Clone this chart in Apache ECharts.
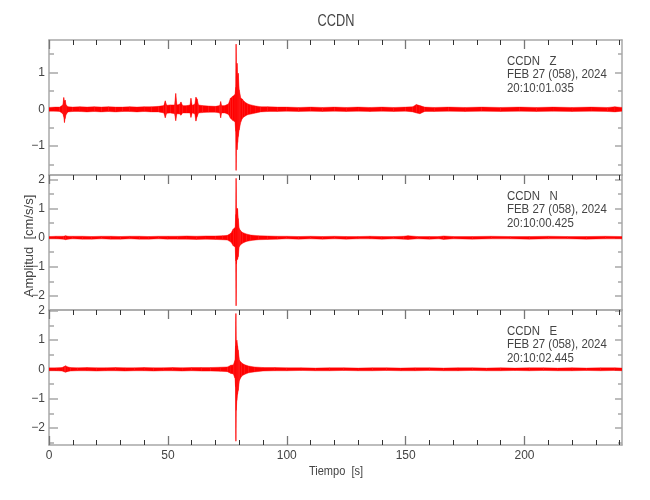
<!DOCTYPE html>
<html><head><meta charset="utf-8">
<script src="https://cdn.jsdelivr.net/npm/echarts@6/dist/echarts.min.js"></script>
<style>html,body{margin:0;padding:0;background:#fff}#c{width:650px;height:500px}</style>
</head><body><div id="c"></div>
<script>
// ---------------- DATA ----------------
const chartTitle = 'CCDN';
const station = 'CCDN';
const components = ['Z', 'N', 'E'];
const dateLine = 'FEB 27 (058), 2024';
const startTimes = ['20:10:01.035', '20:10:00.425', '20:10:02.445'];
const xName = 'Tiempo  [s]';
const yName = 'Amplitud  [cm/s/s]';
const xMax = 241;
const xMajorTicks = [0, 50, 100, 150, 200];
const xTickLabels = ['0', '50', '100', '150', '200'];
const xMinorTicks = [10,20,30,40,60,70,80,90,110,120,130,140,160,170,180,190,210,220,230,240];
const yMin = [-1.785, -2.485, -2.58];
const yMax = [1.883, 2.155, 2.02];
const yMajorTicks = [[-1, 0, 1], [-2, -1, 0, 1, 2], [-2, -1, 0, 1, 2]];
const yMinorTicks = [[-1.5, -0.5, 0.5, 1.5], [-1.5, -0.5, 0.5, 1.5], [-2.5, -1.5, -0.5, 0.5, 1.5]];

// Z component: time [s], upper envelope, lower envelope [cm/s/s]
const tZ = [0,2.5,4.5,5.8,6.2,6.5,6.8,7.2,8,10,13,16,19,22,25,28,31,34,37,40,43,46,48.3,48.9,49.5,51,52.8,53.3,53.8,55.0,55.5,56.2,58,59.3,59.7,60.2,61.3,61.8,62.3,62.9,64.5,67,70,71.8,72.2,72.6,74,75.5,76.3,77.2,78.2,78.55,78.7,78.85,79.1,79.35,79.6,80.0,80.7,81.3,82.1,83.5,84.9,87,89,92,96,100,105,110,115,120,125,130,135,140,145,150,153,154.5,156,158,162,168,175,182,190,198,205,212,220,228,235,238,241];
const hiZ = [0.05,0.06,0.06,0.12,0.32,0.22,0.25,0.12,0.07,0.06,0.07,0.06,0.07,0.06,0.07,0.06,0.06,0.07,0.06,0.07,0.07,0.08,0.1,0.23,0.11,0.12,0.12,0.43,0.12,0.14,0.2,0.1,0.1,0.12,0.3,0.11,0.14,0.33,0.28,0.12,0.1,0.09,0.08,0.1,0.21,0.1,0.1,0.15,0.3,0.35,0.4,0.6,1.77,1.0,1.25,0.9,0.98,0.53,0.3,0.28,0.21,0.15,0.12,0.09,0.07,0.07,0.06,0.06,0.05,0.06,0.05,0.06,0.05,0.06,0.05,0.06,0.05,0.06,0.07,0.13,0.1,0.06,0.05,0.06,0.05,0.06,0.05,0.06,0.05,0.06,0.05,0.06,0.05,0.07,0.05];
const loZ = [-0.05,-0.05,-0.06,-0.12,-0.2,-0.36,-0.25,-0.14,-0.07,-0.06,-0.06,-0.07,-0.06,-0.07,-0.06,-0.07,-0.06,-0.06,-0.07,-0.06,-0.07,-0.07,-0.1,-0.23,-0.11,-0.1,-0.12,-0.31,-0.12,-0.13,-0.16,-0.1,-0.1,-0.1,-0.22,-0.1,-0.12,-0.32,-0.2,-0.1,-0.09,-0.08,-0.08,-0.1,-0.23,-0.1,-0.1,-0.14,-0.24,-0.3,-0.34,-0.6,-1.66,-0.9,-1.1,-0.9,-0.74,-0.56,-0.34,-0.25,-0.2,-0.15,-0.13,-0.1,-0.07,-0.06,-0.06,-0.05,-0.06,-0.05,-0.06,-0.05,-0.06,-0.05,-0.06,-0.05,-0.06,-0.05,-0.07,-0.1,-0.12,-0.06,-0.06,-0.05,-0.06,-0.05,-0.06,-0.05,-0.06,-0.05,-0.06,-0.05,-0.06,-0.07,-0.05];

// N component
const tN = [0,3,6,7,8,10,14,18,22,26,30,34,38,42,46,50,54,58,62,66,70,73,75,76.5,77.5,78.3,78.55,78.7,78.85,79.05,79.3,79.6,80.0,80.5,81.4,83,84.9,88,92,96,100,105,110,115,120,125,130,135,140,145,149,151,155,160,164,166,170,178,186,194,202,210,218,226,234,241];
const hiN = [0.04,0.05,0.05,0.07,0.05,0.05,0.05,0.04,0.05,0.05,0.04,0.05,0.05,0.04,0.05,0.05,0.05,0.06,0.05,0.06,0.06,0.07,0.08,0.15,0.3,0.35,0.8,2.04,0.8,1.0,1.0,0.66,0.32,0.25,0.18,0.13,0.09,0.07,0.06,0.05,0.05,0.04,0.05,0.04,0.05,0.04,0.04,0.05,0.04,0.04,0.05,0.07,0.04,0.04,0.04,0.06,0.04,0.04,0.05,0.04,0.04,0.05,0.04,0.04,0.05,0.04];
const loN = [-0.04,-0.04,-0.05,-0.07,-0.05,-0.04,-0.05,-0.05,-0.04,-0.05,-0.05,-0.04,-0.05,-0.05,-0.04,-0.05,-0.05,-0.05,-0.06,-0.05,-0.06,-0.07,-0.08,-0.15,-0.28,-0.32,-0.8,-2.34,-0.9,-0.71,-0.75,-0.65,-0.31,-0.25,-0.19,-0.13,-0.1,-0.07,-0.06,-0.05,-0.04,-0.05,-0.04,-0.05,-0.04,-0.05,-0.04,-0.04,-0.05,-0.04,-0.05,-0.06,-0.04,-0.05,-0.04,-0.06,-0.04,-0.05,-0.04,-0.04,-0.05,-0.04,-0.04,-0.05,-0.04,-0.04];

// E component
const tE = [0,3,5.5,6.5,7,7.6,9,12,16,20,24,28,32,36,40,44,48,52,56,60,64,68,72,75,76.5,77.5,78.2,78.45,78.6,78.75,79.0,79.3,79.6,80.1,81,82.1,84,86.3,90,95,100,106,112,118,124,130,136,142,148,154,160,166,172,178,184,190,196,202,208,214,220,226,232,238,241];
const hiE = [0.05,0.05,0.06,0.1,0.12,0.09,0.06,0.05,0.06,0.05,0.05,0.06,0.05,0.05,0.06,0.05,0.05,0.06,0.05,0.06,0.06,0.06,0.07,0.08,0.14,0.15,0.3,0.8,1.9,0.9,0.99,0.8,0.65,0.31,0.22,0.16,0.11,0.08,0.06,0.06,0.05,0.05,0.04,0.05,0.05,0.04,0.05,0.05,0.04,0.05,0.05,0.04,0.05,0.05,0.04,0.05,0.04,0.05,0.05,0.04,0.05,0.04,0.05,0.05,0.04];
const loE = [-0.05,-0.05,-0.06,-0.09,-0.1,-0.08,-0.06,-0.05,-0.05,-0.06,-0.05,-0.05,-0.06,-0.05,-0.05,-0.06,-0.05,-0.05,-0.06,-0.05,-0.06,-0.06,-0.07,-0.08,-0.14,-0.16,-0.3,-0.6,-2.45,-1.4,-1.06,-0.85,-0.72,-0.38,-0.24,-0.18,-0.12,-0.09,-0.06,-0.05,-0.05,-0.04,-0.05,-0.05,-0.04,-0.05,-0.05,-0.04,-0.05,-0.05,-0.04,-0.05,-0.05,-0.04,-0.05,-0.05,-0.04,-0.05,-0.04,-0.05,-0.05,-0.04,-0.05,-0.04,-0.05];

const traces = [[tZ, hiZ, loZ], [tN, hiN, loN], [tE, hiE, loE]];

// ---------------- LAYOUT / STYLE ----------------
const FONT = '"Liberation Sans", Arial, sans-serif';
const TXT = '#444';
const GREY = '#a8a8a8';
const RED = '#ff0000';
const gridLeft = 49, gridRight = 28, gridTop0 = 40, gridH = 135;
const minus = v => String(v).replace('-', '\u2212');

const grid = [], xAxis = [], yAxis = [], series = [];
for (let p = 0; p < 3; p++) {
  grid.push({ left: gridLeft, right: gridRight, top: gridTop0 + p * gridH, height: gridH, containLabel: false });
  const base = { gridIndex: p, type: 'value', min: 0, max: xMax, splitLine: { show: false }, axisLabel: { show: false } };
  xAxis.push(Object.assign({}, base, { position: 'top',
    axisLine: { show: true, onZero: false, lineStyle: { color: GREY, width: 1.5 } },
    axisTick: { show: true, inside: true, length: 9, customValues: xMajorTicks, lineStyle: { color: '#777', width: 1.3 } } }));
  xAxis.push(Object.assign({}, base, { position: 'top',
    axisLine: { show: false, onZero: false },
    axisTick: { show: true, inside: true, length: 5, customValues: xMinorTicks, lineStyle: { color: '#333', width: 1 } } }));
  const isLast = p === 2;
  xAxis.push(Object.assign({}, base, { position: 'bottom',
    axisLine: { show: true, onZero: false, lineStyle: { color: GREY, width: 1.5 } },
    axisTick: { show: isLast, inside: true, length: 9, customValues: xMajorTicks, lineStyle: { color: '#777', width: 1.3 } },
    axisLabel: { show: isLast, customValues: xMajorTicks, margin: 5, color: TXT, fontSize: 12, fontFamily: FONT,
      formatter: v => xTickLabels[xMajorTicks.indexOf(v)] } }));
  xAxis.push(Object.assign({}, base, { position: 'bottom',
    axisLine: { show: false, onZero: false },
    axisTick: { show: isLast, inside: true, length: 5, customValues: xMinorTicks, lineStyle: { color: '#333', width: 1 } } }));

  const yb = { gridIndex: p, type: 'value', min: yMin[p], max: yMax[p], splitLine: { show: false }, axisLabel: { show: false } };
  yAxis.push(Object.assign({}, yb, { position: 'left',
    axisLine: { show: true, onZero: false, lineStyle: { color: GREY, width: 1.5 } },
    axisTick: { show: true, inside: true, length: 9, customValues: yMajorTicks[p], lineStyle: { color: GREY, width: 1.5 } },
    axisLabel: { show: true, customValues: yMajorTicks[p], margin: 4, color: TXT, fontSize: 12, fontFamily: FONT, formatter: minus } }));
  yAxis.push(Object.assign({}, yb, { position: 'left',
    axisLine: { show: false, onZero: false },
    axisTick: { show: true, inside: true, length: 5, customValues: yMinorTicks[p], lineStyle: { color: GREY, width: 1.5 } } }));
  yAxis.push(Object.assign({}, yb, { position: 'right',
    axisLine: { show: true, onZero: false, lineStyle: { color: GREY, width: 1.5 } },
    axisTick: { show: true, inside: true, length: 7, customValues: yMajorTicks[p], lineStyle: { color: GREY, width: 1.5 } } }));
  yAxis.push(Object.assign({}, yb, { position: 'right',
    axisLine: { show: false, onZero: false },
    axisTick: { show: true, inside: true, length: 4, customValues: yMinorTicks[p], lineStyle: { color: GREY, width: 1.5 } } }));

  // envelope segments: [t0, hi0, lo0, t1, hi1, lo1]
  const [t, hi, lo] = traces[p];
  const segs = [];
  for (let i = 0; i < t.length - 1; i++) segs.push([t[i], hi[i], lo[i], t[i + 1], hi[i + 1], lo[i + 1]]);
  series.push({
    type: 'custom', xAxisIndex: 4 * p, yAxisIndex: 4 * p, clip: true, silent: true, animation: false,
    encode: { x: [0, 3], y: [1, 2, 4, 5] },
    data: segs,
    renderItem: (params, api) => {
      const a = api.coord([api.value(0), api.value(1)]);
      const b = api.coord([api.value(3), api.value(4)]);
      const c = api.coord([api.value(3), api.value(5)]);
      const d = api.coord([api.value(0), api.value(2)]);
      return { type: 'polygon', shape: { points: [a, b, c, d] },
        style: { fill: RED, stroke: RED, lineWidth: 0.4 } };
    }
  });
}

const graphic = [
  { type: 'text', x: 336, y: 21, scaleX: 0.75, z: 100, style: { text: chartTitle, fill: TXT, fontSize: 17, fontFamily: FONT, align: 'center', verticalAlign: 'middle' } },
  { type: 'text', x: 336, y: 471, scaleX: 0.85, z: 100, style: { text: xName, fill: TXT, fontSize: 13, fontFamily: FONT, align: 'center', verticalAlign: 'middle' } },
  { type: 'text', x: 29, y: 246, rotation: Math.PI / 2, z: 100, style: { text: yName, fill: TXT, fontSize: 13, fontFamily: FONT, align: 'center', verticalAlign: 'middle' } }
];
for (let p = 0; p < 3; p++) {
  const top = gridTop0 + p * gridH;
  const lines = [station + '   ' + components[p], dateLine, startTimes[p]];
  lines.forEach((s, k) => graphic.push({ type: 'text', x: 507, y: top + 21 + 13.5 * k, scaleX: 0.88, z: 100,
    style: { text: s, fill: TXT, fontSize: 13, fontFamily: FONT, align: 'left', verticalAlign: 'middle' } }));
}

const chart = echarts.init(document.getElementById('c'), null, { renderer: 'canvas' });
chart.setOption({ backgroundColor: '#fff', animation: false, grid, xAxis, yAxis, series, graphic });
</script></body></html>
